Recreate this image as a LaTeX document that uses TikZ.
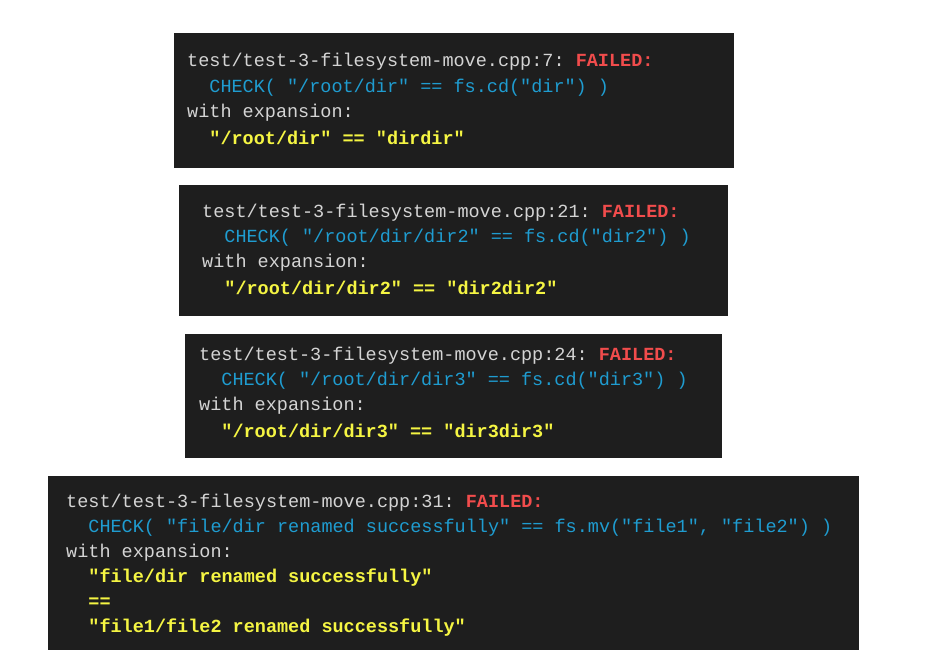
\documentclass[tikz,border=0pt]{standalone}
\usepackage{fontspec}
\setmonofont{Liberation Mono}
\definecolor{termbg}{HTML}{1E1E1E}
\definecolor{termfg}{HTML}{D4D4D4}
\definecolor{termblue}{HTML}{1F9CD0}
\definecolor{termred}{HTML}{F14C4C}
\definecolor{termyel}{HTML}{F5F543}
\newcommand\ind{\hspace*{22.2pt}}
\begin{document}
\begin{tikzpicture}[x=1pt,y=-1pt,
  term/.style={fill=termbg,draw=none},
  ln/.style={anchor=west,inner sep=0pt,font=\fontsize{18.5}{22}\selectfont\ttfamily,text=termfg},
  chk/.style={ln,text=termblue},
  exp/.style={ln,text=termyel,font=\fontsize{18.5}{22}\selectfont\ttfamily\bfseries}]
\fill[white] (0,0) rectangle (937,666);
\useasboundingbox (0,0) rectangle (937,666);
% box 1
\fill[term] (174,33) rectangle (734,168);
\node[ln] (a1) at (187,62) {test/test-3-filesystem-move.cpp:7: \textcolor{termred}{\bfseries FAILED:}};
\node[chk] (a2) at (187,88) {\ind CHECK( "/root/dir" == fs.cd("dir") )};
\node[ln] (a3) at (187,113) {with expansion:};
\node[exp] (a4) at (187,138) {\ind"/root/dir" == "dirdir"};
% box 2
\fill[term] (179,185) rectangle (728,316);
\node[ln] (b1) at (202,213) {test/test-3-filesystem-move.cpp:21: \textcolor{termred}{\bfseries FAILED:}};
\node[chk] (b2) at (202,238) {\ind CHECK( "/root/dir/dir2" == fs.cd("dir2") )};
\node[ln] (b3) at (202,263) {with expansion:};
\node[exp] (b4) at (202,288) {\ind"/root/dir/dir2" == "dir2dir2"};
% box 3
\fill[term] (185,334) rectangle (722,458);
\node[ln] (c1) at (199,356) {test/test-3-filesystem-move.cpp:24: \textcolor{termred}{\bfseries FAILED:}};
\node[chk] (c2) at (199,381) {\ind CHECK( "/root/dir/dir3" == fs.cd("dir3") )};
\node[ln] (c3) at (199,406) {with expansion:};
\node[exp] (c4) at (199,431) {\ind"/root/dir/dir3" == "dir3dir3"};
% box 4
\fill[term] (48,476) rectangle (859,650);
\node[ln] (d1) at (66,503) {test/test-3-filesystem-move.cpp:31: \textcolor{termred}{\bfseries FAILED:}};
\node[chk] (d2) at (66,528) {\ind CHECK( "file/dir renamed successfully" == fs.mv("file1", "file2") )};
\node[ln] (d3) at (66,553) {with expansion:};
\node[exp] (d4) at (66,578) {\ind"file/dir renamed successfully"};
\node[exp] (d5) at (66,603) {\ind==};
\node[exp] (d6) at (66,628) {\ind"file1/file2 renamed successfully"};
\end{tikzpicture}
\end{document}
